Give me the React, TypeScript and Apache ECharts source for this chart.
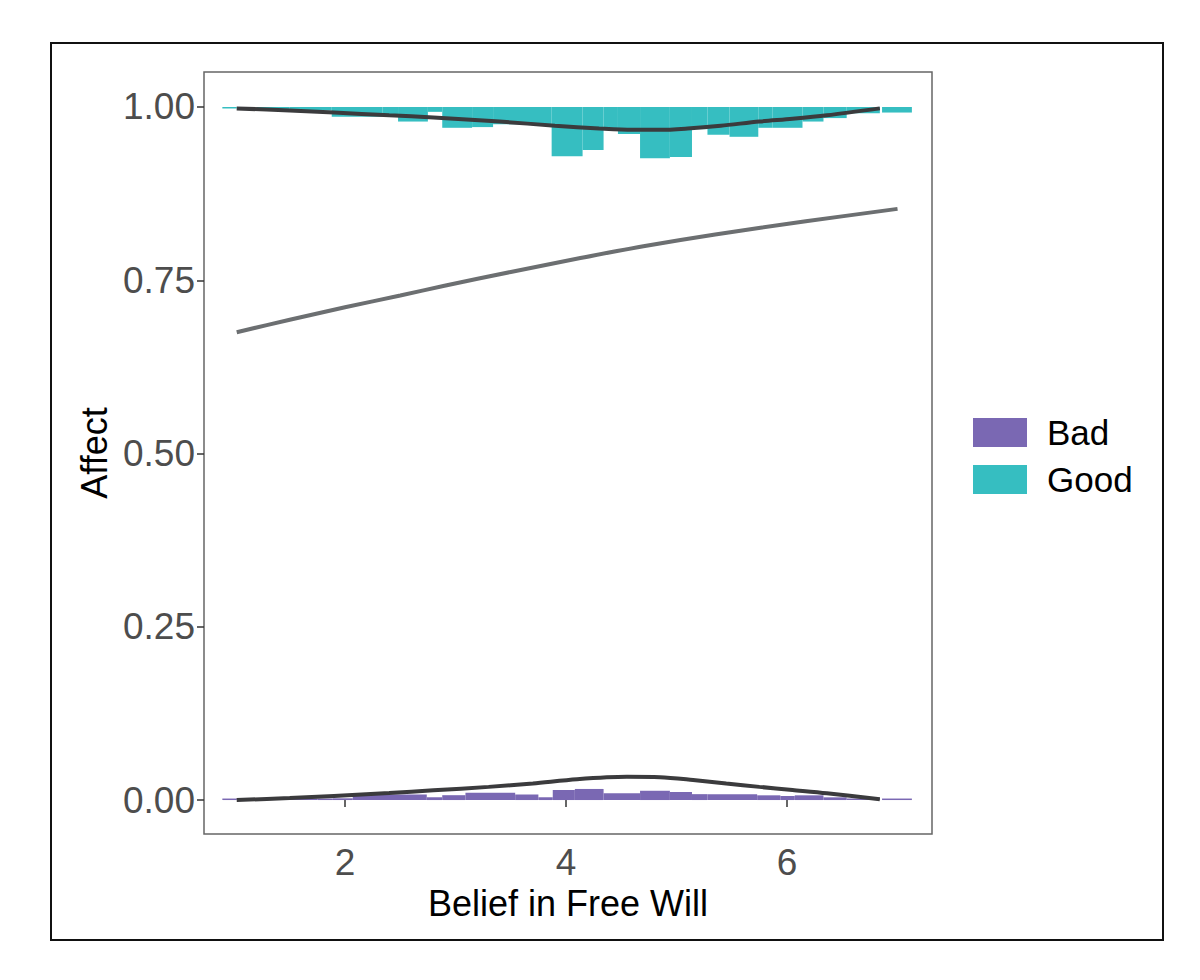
import React, { useEffect, useRef } from "react";
import * as echarts from "echarts";

// histogram bins: [from, to, bar depth] in data units
const goodBins = [
    [0.89, 1.02, 0.002], [1.2, 1.5, 0.003], [1.5, 1.88, 0.005],
    [1.88, 2.34, 0.014], [2.34, 2.48, 0.013], [2.48, 2.75, 0.021],
    [2.75, 2.88, 0.007], [2.88, 3.15, 0.030], [3.15, 3.34, 0.029],
    [3.34, 3.87, 0.025], [3.87, 4.15, 0.071], [4.15, 4.34, 0.062],
    [4.34, 4.47, 0.032], [4.47, 4.67, 0.039], [4.67, 4.94, 0.074],
    [4.94, 5.14, 0.072], [5.14, 5.28, 0.032], [5.28, 5.48, 0.040],
    [5.48, 5.74, 0.043], [5.74, 5.87, 0.030], [5.87, 6.14, 0.030],
    [6.14, 6.33, 0.021], [6.33, 6.54, 0.016], [6.54, 6.84, 0.009],
    [6.86, 7.13, 0.008],
];

const badBins = [
    [0.89, 1.02, 0.001], [1.02, 1.75, 0.001], [1.75, 1.89, 0.002],
    [1.89, 2.07, 0.0025], [2.07, 2.74, 0.008], [2.74, 2.88, 0.004],
    [2.88, 3.09, 0.007], [3.09, 3.54, 0.0105], [3.54, 3.75, 0.008],
    [3.75, 3.88, 0.004], [3.88, 4.08, 0.0145], [4.08, 4.34, 0.016],
    [4.34, 4.67, 0.0097], [4.67, 4.94, 0.0134], [4.94, 5.14, 0.0115],
    [5.14, 5.28, 0.0085], [5.28, 5.73, 0.0082], [5.73, 5.94, 0.0068],
    [5.94, 6.07, 0.0058], [6.07, 6.33, 0.0068], [6.33, 6.54, 0.0039],
    [6.54, 6.84, 0.001], [6.86, 7.13, 0.0007],
];

// fitted logistic curve
const fitCurve = [
    [1.02, 0.675], [1.5, 0.693], [2.0, 0.711], [2.5, 0.728], [2.9, 0.742],
    [3.5, 0.762], [4.13, 0.782], [4.7, 0.799], [5.35, 0.816], [6.17, 0.835],
    [7.0, 0.853],
];

// smoothed curves over each histogram
const goodCurve = [
    [1.02, 0.998], [1.5, 0.995], [1.9, 0.992], [2.4, 0.988], [2.8, 0.985],
    [3.4, 0.979], [3.9, 0.973], [4.3, 0.969], [4.6, 0.967], [4.85, 0.967],
    [5.1, 0.969], [5.4, 0.973], [5.75, 0.979], [6.05, 0.983], [6.36, 0.988],
    [6.84, 0.998],
];

const badCurve = [
    [1.02, 0.0], [1.5, 0.003], [1.9, 0.006], [2.4, 0.010], [2.8, 0.014],
    [3.3, 0.019], [3.7, 0.024], [4.1, 0.030], [4.55, 0.0335], [4.85, 0.033],
    [5.15, 0.029], [5.45, 0.024], [5.75, 0.019], [6.05, 0.0145],
    [6.36, 0.0098], [6.84, 0.001],
];

const xTicks = [2, 4, 6];
const yTicks = [0, 0.25, 0.5, 0.75, 1.0];

const FONT = "'Liberation Sans', Arial, sans-serif";
const GOOD = "#36bec1";
const BAD = "#7a68b3";
const DARK = "#3b3b3d";

const histRender = (top: boolean, color: string) => (params: any, api: any) => {
    const x0 = api.value(0);
    const x1 = api.value(1);
    const d = api.value(2);
    const base = top ? 1 : 0;
    const p0 = api.coord([x0, base]);
    const p1 = api.coord([x1, top ? 1 - d : d]);
    const h = Math.max(Math.abs(p1[1] - p0[1]), 1.5);
    return {
        type: "rect",
        shape: { x: p0[0], y: top ? p0[1] : p0[1] - h, width: p1[0] - p0[0], height: h },
        style: { fill: color },
    };
};

const App: React.FC = () => {
    const chartRef = useRef<HTMLDivElement>(null);

    useEffect(() => {
        if (!chartRef.current) return;
        const chart = echarts.init(chartRef.current, null, { renderer: "svg" });
        chart.setOption({
            animation: false,
            backgroundColor: "#fff",
            textStyle: { fontFamily: FONT },
            grid: {
                left: 204,
                top: 72,
                width: 728,
                height: 762,
                show: true,
                borderColor: "#666",
                borderWidth: 1.5,
                backgroundColor: "#fff",
            },
            legend: {
                orient: "vertical",
                left: 973,
                top: 415,
                padding: 0,
                itemWidth: 54,
                itemHeight: 29,
                itemGap: 12,
                icon: "rect",
                data: ["Bad", "Good"],
                textStyle: { fontSize: 35, color: "#000", fontFamily: FONT, padding: [0, 0, 0, 15] },
            },
            xAxis: {
                type: "value",
                min: 0.724,
                max: 7.312,
                name: "Belief in Free Will",
                nameLocation: "middle",
                nameGap: 47,
                nameTextStyle: { fontSize: 36, color: "#000", fontFamily: FONT },
                axisLine: { show: false },
                splitLine: { show: false },
                axisTick: { show: true, length: 7, customValues: xTicks, lineStyle: { color: "#333", width: 1.5 } },
                axisLabel: { customValues: xTicks, fontSize: 37, color: "#4d4d4d", margin: 10, fontFamily: FONT },
            },
            yAxis: {
                type: "value",
                min: -0.049,
                max: 1.0505,
                name: "Affect",
                nameLocation: "middle",
                nameGap: 90,
                nameRotate: 90,
                nameTextStyle: { fontSize: 36, color: "#000", fontFamily: FONT },
                axisLine: { show: false },
                splitLine: { show: false },
                axisTick: { show: true, length: 7, customValues: yTicks, lineStyle: { color: "#333", width: 1.5 } },
                axisLabel: {
                    customValues: yTicks,
                    fontSize: 37,
                    color: "#4d4d4d",
                    margin: 9,
                    fontFamily: FONT,
                    formatter: (v: number) => v.toFixed(2),
                },
            },
            graphic: [
                {
                    type: "rect",
                    shape: { x: 51, y: 43, width: 1112, height: 897 },
                    style: { fill: "none", stroke: "#111", lineWidth: 2 },
                    silent: true,
                },
            ],
            series: [
                {
                    name: "Good",
                    type: "custom",
                    renderItem: histRender(true, GOOD),
                    itemStyle: { color: GOOD },
                    encode: { x: [0, 1], y: 2 },
                    data: goodBins,
                    z: 2,
                },
                {
                    name: "Bad",
                    type: "custom",
                    renderItem: histRender(false, BAD),
                    itemStyle: { color: BAD },
                    encode: { x: [0, 1], y: 2 },
                    data: badBins,
                    z: 2,
                },
                {
                    type: "line",
                    data: fitCurve,
                    smooth: 0.3,
                    showSymbol: false,
                    lineStyle: { color: "#6c6f71", width: 4 },
                    z: 3,
                },
                {
                    type: "line",
                    data: goodCurve,
                    smooth: 0.3,
                    showSymbol: false,
                    lineStyle: { color: DARK, width: 4 },
                    z: 4,
                },
                {
                    type: "line",
                    data: badCurve,
                    smooth: 0.3,
                    showSymbol: false,
                    lineStyle: { color: DARK, width: 4 },
                    z: 4,
                },
            ],
        });
        return () => {
            chart.dispose();
        };
    }, []);

    return (
        <div
            ref={chartRef}
            style={{ position: "absolute", left: 0, top: 0, width: 1200, height: 980, background: "#fff" }}
        />
    );
};

export default App;
